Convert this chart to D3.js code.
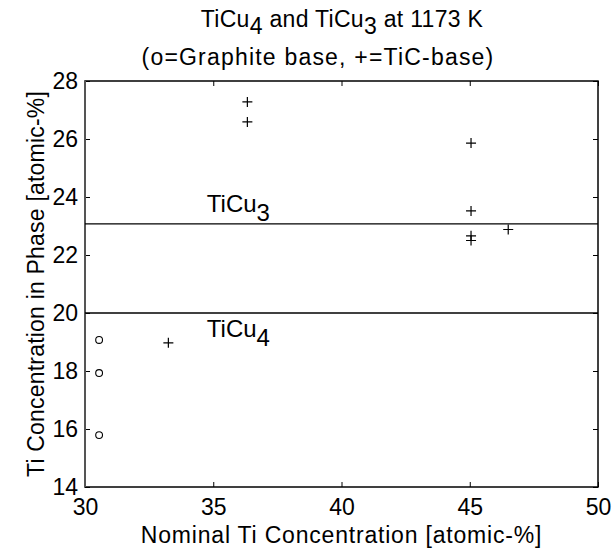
<!DOCTYPE html>
<html>
<head>
<meta charset="utf-8">
<script src="https://d3js.org/d3.v7.min.js"></script>
<style>
  body { margin: 0; background: #fff; }
  text { font-family: "Liberation Sans", Arial, sans-serif; fill: #000; }
</style>
</head>
<body>
<div id="chart"></div>
<script>
// data
var graphiteX = [30.55, 30.55, 30.55];
var graphiteY = [19.07, 17.93, 15.79];
var ticX = [33.25, 36.33, 36.33, 45.05, 45.05, 45.05, 45.05, 46.5];
var ticY = [18.97, 27.28, 26.59, 25.86, 23.52, 22.66, 22.5, 22.88];
var phaseNames = ["TiCu", "TiCu"];
var phaseSubs = ["4", "3"];
var phaseLevels = [20, 23.07];
var phaseLabelX = [34.75, 34.75];
var xTicks = [30, 35, 40, 45, 50];
var yTicks = [14, 16, 18, 20, 22, 24, 26, 28];

var margin = {top: 81, right: 16, bottom: 63, left: 85},
    width = 614 - margin.left - margin.right,
    height = 550 - margin.top - margin.bottom;

var svg = d3.select("#chart")
  .append("svg")
    .attr("width", 614)
    .attr("height", 550)
  .append("g")
    .attr("transform", "translate(" + margin.left + "," + margin.top + ")");

var x = d3.scaleLinear().domain([30, 50]).range([0, width]);
var y = d3.scaleLinear().domain([14, 28]).range([height, 0]);

// axes with inward ticks on all four sides
svg.append("g")
  .attr("transform", "translate(0," + height + ")")
  .call(d3.axisBottom(x).tickValues(xTicks).tickSize(-5).tickPadding(12))
  .call(function (g) { g.select(".domain").remove(); });
svg.append("g")
  .call(d3.axisLeft(y).tickValues(yTicks).tickSize(-5).tickPadding(7))
  .call(function (g) { g.select(".domain").remove(); });
svg.append("g")
  .call(d3.axisTop(x).tickValues(xTicks).tickSize(-5).tickFormat(""))
  .call(function (g) { g.select(".domain").remove(); });
svg.append("g")
  .attr("transform", "translate(" + width + ",0)")
  .call(d3.axisRight(y).tickValues(yTicks).tickSize(-5).tickFormat(""))
  .call(function (g) { g.select(".domain").remove(); });

svg.selectAll(".tick text").style("font-size", "23px");
svg.selectAll(".tick line").attr("stroke", "#000");

svg.append("rect")
  .attr("width", width)
  .attr("height", height)
  .attr("fill", "none")
  .attr("stroke", "#000")
  .attr("stroke-width", 1.5);
svg.append("line")
  .attr("y1", 0).attr("y2", height)
  .attr("stroke", "#555")
  .attr("stroke-width", 2);

// phase lines
svg.selectAll(".phase")
  .data(phaseLevels)
  .enter()
  .append("line")
    .attr("x1", 0)
    .attr("x2", width)
    .attr("y1", function (d) { return y(d); })
    .attr("y2", function (d) { return y(d); })
    .attr("stroke", "#000")
    .attr("stroke-width", 1.3);

var lab = svg.selectAll(".plab")
  .data(phaseLevels)
  .enter()
  .append("text")
    .attr("x", function (d, i) { return x(phaseLabelX[i]); })
    .attr("y", function (d, i) { return i == 0 ? y(d) + 24 : y(d) - 12; })
    .style("font-size", "24px");
lab.append("tspan").text(function (d, i) { return phaseNames[i]; });
lab.append("tspan").attr("dy", 9).text(function (d, i) { return phaseSubs[i]; });

// graphite base: circles
svg.append("g")
  .selectAll("circle")
  .data(graphiteX)
  .enter()
  .append("circle")
    .attr("cx", function (d) { return x(d); })
    .attr("cy", function (d, i) { return y(graphiteY[i]); })
    .attr("r", 3.4)
    .attr("fill", "none")
    .attr("stroke", "#000")
    .attr("stroke-width", 1.1);

// TiC base: plus signs
svg.append("g")
  .selectAll("path")
  .data(ticX)
  .enter()
  .append("path")
    .attr("d", function (d, i) {
      var cx = x(d), cy = y(ticY[i]);
      return "M" + (cx - 5) + "," + cy + "H" + (cx + 5) + "M" + cx + "," + (cy - 5) + "V" + (cy + 5);
    })
    .attr("stroke", "#000")
    .attr("stroke-width", 1.2);

// title
var t1 = svg.append("text")
  .attr("x", 342 - margin.left)
  .attr("y", 27 - margin.top)
  .attr("text-anchor", "middle")
  .style("font-size", "23px")
  .style("letter-spacing", "0.3px");
t1.append("tspan").text("TiCu");
t1.append("tspan").attr("dy", 7).text("4");
t1.append("tspan").attr("dy", -7).text(" and TiCu");
t1.append("tspan").attr("dy", 7).text("3");
t1.append("tspan").attr("dy", -7).text(" at 1173 K");

svg.append("text")
  .attr("x", 318 - margin.left)
  .attr("y", 65 - margin.top)
  .attr("text-anchor", "middle")
  .style("font-size", "23px")
  .style("letter-spacing", "1.2px")
  .text("(o=Graphite base, +=TiC-base)");

// axis labels
svg.append("text")
  .attr("x", width / 2)
  .attr("y", height + 56)
  .attr("text-anchor", "middle")
  .style("font-size", "23px")
  .style("letter-spacing", "0.8px")
  .text("Nominal Ti Concentration [atomic-%]");

svg.append("text")
  .attr("transform", "rotate(-90)")
  .attr("x", -height / 2)
  .attr("y", -41)
  .attr("text-anchor", "middle")
  .style("font-size", "23px")
  .style("letter-spacing", "0.2px")
  .text("Ti Concentration in Phase [atomic-%]");
</script>
</body>
</html>
